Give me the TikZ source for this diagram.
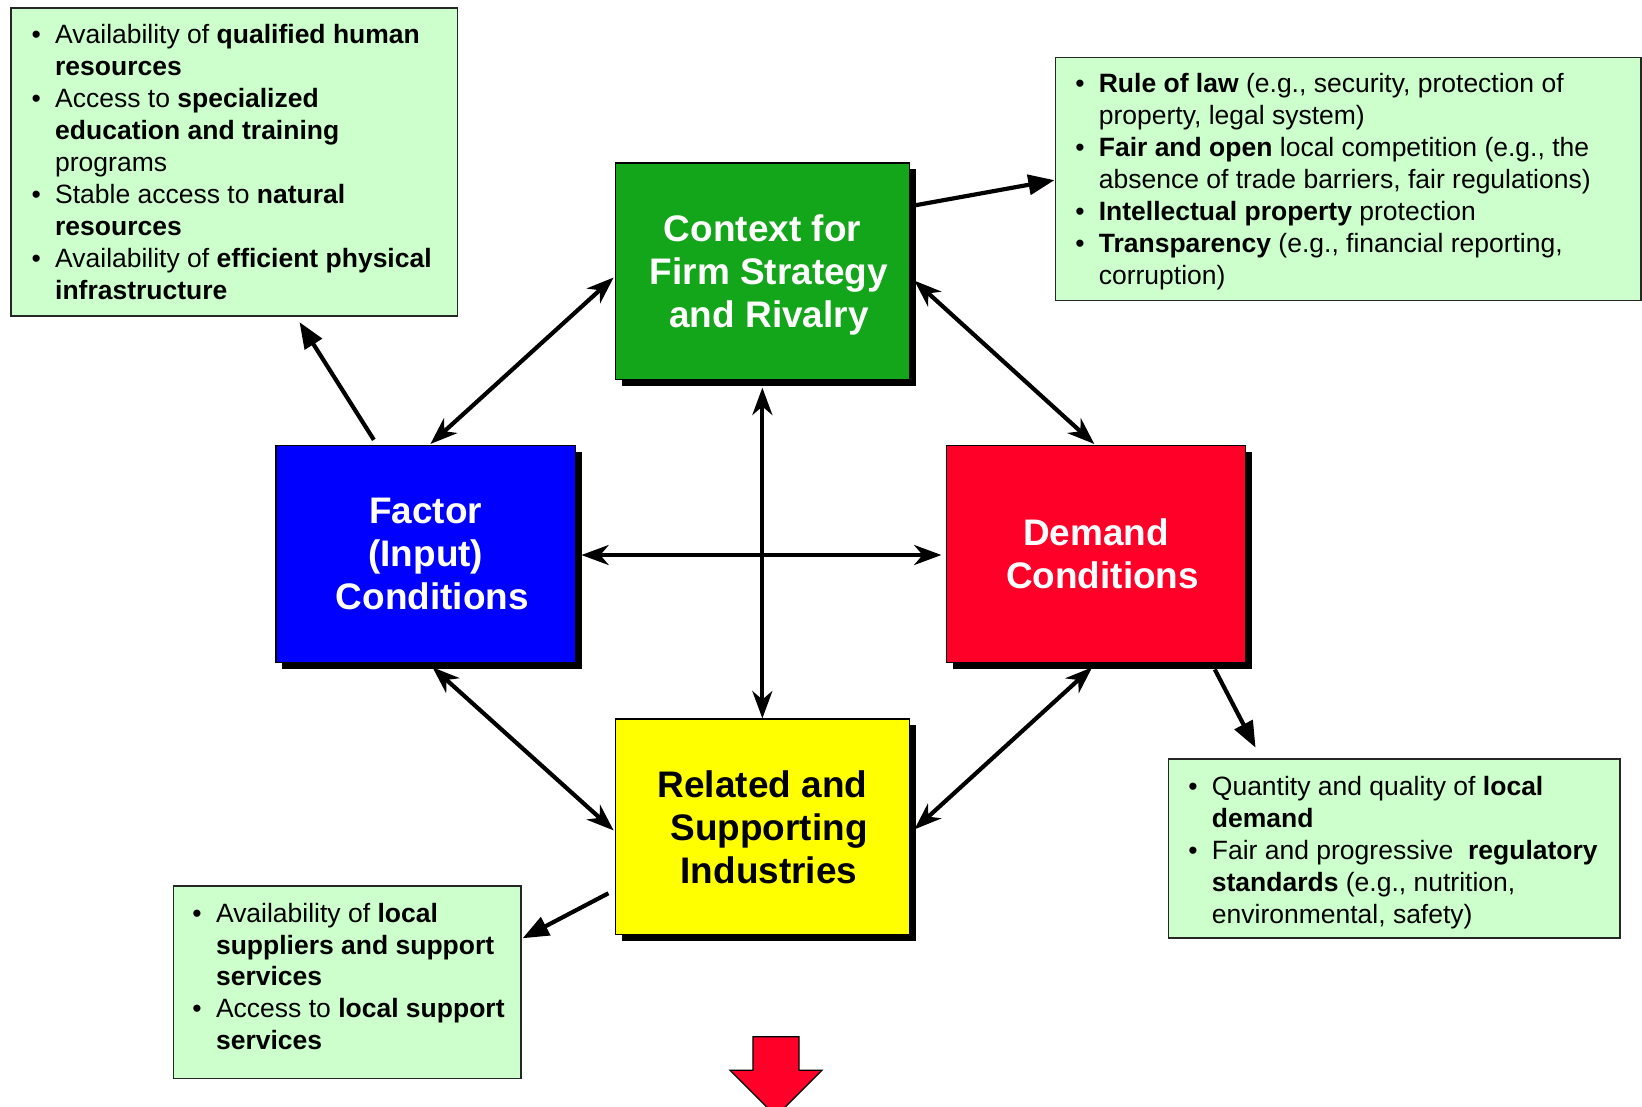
\documentclass[tikz,border=0pt]{standalone}
\usepackage{fontspec}
\setmainfont{Liberation Sans}
\usetikzlibrary{arrows.meta,shadows,calc}

\definecolor{boxgreen}{RGB}{20,166,26}
\definecolor{boxblue}{RGB}{0,0,255}
\definecolor{boxred}{RGB}{255,0,40}
\definecolor{boxyellow}{RGB}{255,255,0}
\definecolor{notegreen}{RGB}{204,255,204}

\newcommand{\bul}{\makebox[22.5pt][l]{•}}
\newcommand{\ind}{\hspace*{22.5pt}}
\newcommand{\shr}{\hspace*{12.5pt}}

\begin{document}
\begin{tikzpicture}[x=1pt,y=-1pt,
  force/.style={draw=black, line width=1.2pt, rectangle, anchor=north west, inner sep=0pt, align=center,
    font=\fontsize{35.3}{41}\selectfont\bfseries,
    drop shadow={shadow xshift=6pt, shadow yshift=-6pt, fill=black, opacity=1}},
  note/.style={draw=black!85, line width=1.6pt, fill=notegreen, rectangle, anchor=north west, inner sep=0pt},
  notetext/.style={anchor=north west, inner sep=0pt, align=left, font=\fontsize{25.3}{30.5}\selectfont},
  both/.style={line width=4pt, {Stealth[length=26pt,width=19pt,inset=8pt]}-{Stealth[length=26pt,width=19pt,inset=8pt]}},
  one/.style={line width=4pt, -{Triangle[length=25pt,width=19pt]}}
]
\useasboundingbox (0,0) rectangle (1568,1057);
\fill[white] (0,0) rectangle (1568,1057);

% note boxes
\node[note, minimum width=426pt, minimum height=294pt] (tl) at (10,7) {};
\node[notetext] (tltxt) at (30,23) {\bul Availability of \textbf{qualified human}\\
\ind\textbf{resources}\\
\bul Access to \textbf{specialized}\\
\ind\textbf{education and training}\\
\ind programs\\
\bul Stable access to \textbf{natural}\\
\ind\textbf{resources}\\
\bul Availability of \textbf{efficient physical}\\
\ind\textbf{infrastructure}};

\node[note, minimum width=559pt, minimum height=232pt] (tr) at (1007,54) {};
\node[notetext] (trtxt) at (1026.6,70) {\bul\textbf{Rule of law} (e.g., security, protection of\\
\ind property, legal system)\\
\bul\textbf{Fair and open} local competition (e.g., the\\
\ind absence of trade barriers, fair regulations)\\
\bul\textbf{Intellectual property} protection\\
\bul\textbf{Transparency} (e.g., financial reporting,\\
\ind corruption)};

\node[note, minimum width=332pt, minimum height=184pt] (bl) at (165,845) {};
\node[notetext] (bltxt) at (183.6,862) {\bul Availability of \textbf{local}\\
\ind\textbf{suppliers and support}\\
\ind\textbf{services}\\
\bul Access to \textbf{local support}\\
\ind\textbf{services}};

\node[note, minimum width=431pt, minimum height=171pt] (br) at (1115,724) {};
\node[notetext] (brtxt) at (1134.6,741) {\bul Quantity and quality of \textbf{local}\\
\ind\textbf{demand}\\
\bul Fair and progressive \ \textbf{regulatory}\\
\ind\textbf{standards} (e.g., nutrition,\\
\ind environmental, safety)};

% force boxes
\node[force, fill=boxgreen, text=white, minimum width=281pt, minimum height=207pt] (ctx) at (587,155) {\rule{0pt}{32pt}Context for\\\shr Firm Strategy\\\shr and Rivalry};
\node[force, fill=boxblue, text=white, minimum width=286pt, minimum height=207pt] (fac) at (263,425) {Factor\\(Input)\\\shr Conditions};
\node[force, fill=boxred, text=white, minimum width=286pt, minimum height=207pt] (dem) at (903,425) {Demand\\\shr Conditions};
\node[force, fill=boxyellow, text=black, minimum width=281pt, minimum height=206pt] (rel) at (587,686) {Related and\\\shr Supporting\\\shr Industries};

% connectors
\draw[one] ($(fac.north west)+(94,-5)$) -- ($(tl.south west)+(276,5)$);
\draw[both] ($(fac.north west)+(148,-1)$) -- ($(ctx.north west)+(-1,110)$);
\draw[both] ($(ctx.north east)+(4,113)$) -- ($(dem.north west)+(142,-1)$);
\draw[one] ($(ctx.north east)+(5,41)$) -- ($(tr.north west)+(0,118)$);
\draw[both] ($(ctx.south west)+(141,7)$) -- ($(rel.north west)+(141,0)$);
\draw[both] ($(fac.north east)+(5,105)$) -- ($(dem.north west)+(-4,105)$);
\draw[both] ($(fac.south west)+(150,4)$) -- ($(rel.north west)+(-1,107)$);
\draw[both] ($(dem.south west)+(140,4)$) -- ($(rel.north east)+(4,106)$);
\draw[one] ($(dem.south west)+(257,6)$) -- ($(br.north west)+(84,-10)$);
\draw[one] ($(rel.north west)+(-6,167)$) -- ($(bl.north west)+(334,51)$);

% red block arrow at the bottom
\begin{scope}
\clip (0,0) rectangle (1568,1057);
\draw[fill=boxred, line width=1.2pt] (697,1022) -- (719,1022) -- (719,990) -- (763,990) -- (763,1022) -- (785,1022) -- (741,1066) -- cycle;
\end{scope}
\end{tikzpicture}
\end{document}
